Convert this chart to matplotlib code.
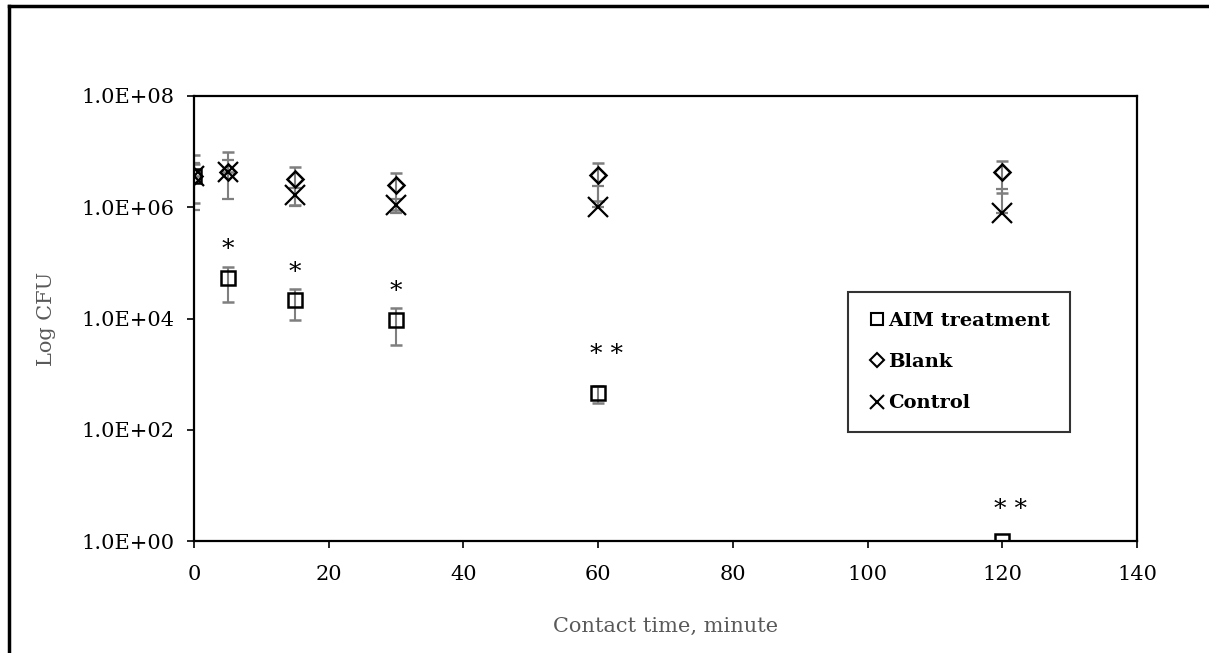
import numpy as np
import matplotlib.pyplot as plt
from matplotlib.lines import Line2D
from matplotlib.ticker import FixedLocator, FuncFormatter

plt.rcParams['font.family'] = ['DejaVu Serif']

# tiempos de contacto (min)
t = np.array([0, 5, 15, 30, 60, 120])

# UFC medias y desviaciones
aim = np.array([3.6e6, 5.3e4, 2.15e4, 9.3e3, 450, 1.0])
aim_sd = np.array([2.4e6, 3.3e4, 1.2e4, 6.0e3, 150, 0])

blank = np.array([3.6e6, 4.3e6, 3.2e6, 2.5e6, 3.8e6, 4.3e6])
blank_sd = np.array([5.1e6, 5.7e6, 2.1e6, 1.6e6, 2.5e6, 2.5e6])

control = np.array([3.6e6, 4.3e6, 1.65e6, 1.1e6, 1.0e6, 7.8e5])
control_sd = np.array([2.7e6, 2.9e6, 0.6e6, 0.3e6, 1.4e6, 1.35e6])

# significancia sobre AIM
sig = ['', '*', '*', '*', '* *', '* *']


def yerr(m, sd):
    # en escala log no se dibuja la parte negativa
    lo = np.where(m - sd > 0, sd, 0)
    return [lo, sd]


fig = plt.figure(figsize=(12.09, 6.53), dpi=100)
ax = fig.add_axes([0.1605, 0.1715, 0.7799, 0.6815])

eb = dict(ecolor='#7f7f7f', elinewidth=1.5, capsize=4.5, capthick=1.5, linestyle='none')

ax.errorbar(t, aim, yerr=yerr(aim, aim_sd), marker='s', ms=10, mfc='none', mec='black',
            mew=1.8, **eb)
ax.errorbar(t, blank, yerr=yerr(blank, blank_sd), marker='D', ms=8, mfc='none', mec='black',
            mew=1.8, **eb)
ax.errorbar(t, control, yerr=yerr(control, control_sd), marker='x', ms=15, mec='black',
            mew=1.6, **eb)

# asteriscos encima de la barra de error
for x, m, s, lab in zip(t, aim, aim_sd, sig):
    if lab:
        dx, dy = (0, 12) if len(lab) == 1 else (6, 23)
        ax.annotate(lab, (x, m + s), xytext=(dx, dy), textcoords='offset points',
                    ha='center', va='center', fontsize=18, color='black')

ax.set_yscale('log')
ax.set_ylim(1, 1e8)
ax.set_xlim(0, 140)
ax.xaxis.set_major_locator(FixedLocator(np.arange(0, 141, 20)))
ax.yaxis.set_major_locator(FixedLocator([1e0, 1e2, 1e4, 1e6, 1e8]))
ax.yaxis.set_minor_locator(FixedLocator([]))
ax.yaxis.set_major_formatter(FuncFormatter(lambda v, p: '%.1E' % v))
ax.tick_params(axis='both', labelsize=15, direction='out', length=5, width=1.2)
ax.tick_params(axis='x', pad=12)
ax.tick_params(axis='y', pad=9)

for sp in ax.spines.values():
    sp.set_linewidth(1.6)

ax.set_xlabel('Contact time, minute', fontsize=15, color='#595959', labelpad=24)
ax.set_ylabel('Log CFU', fontsize=15, color='#595959', labelpad=18)

handles = [
    Line2D([], [], ls='none', marker='s', ms=9, mfc='none', mec='black', mew=1.5),
    Line2D([], [], ls='none', marker='D', ms=7, mfc='none', mec='black', mew=1.5),
    Line2D([], [], ls='none', marker='x', ms=10, mec='black', mew=1.5),
]
leg = ax.legend(handles, ['AIM treatment', 'Blank', 'Control'], loc='center right',
                bbox_to_anchor=(0.929, 0.402), frameon=True, fancybox=False,
                prop={'weight': 'bold', 'size': 14}, handletextpad=0.1, handlelength=1.0,
                labelspacing=1.2, borderpad=1.0, borderaxespad=0)
leg.get_frame().set_edgecolor('black')
leg.get_frame().set_linewidth(1.5)

# marco exterior (arriba e izquierda)
fig.add_artist(Line2D([8.5 / 1209, 8.5 / 1209], [-0.05, 1 - 5.5 / 653], transform=fig.transFigure,
                      color='black', lw=2.5))
fig.add_artist(Line2D([8.5 / 1209, 1.05], [1 - 5.5 / 653, 1 - 5.5 / 653], transform=fig.transFigure,
                      color='black', lw=2.5))

fig.savefig('out.png', dpi=100)
